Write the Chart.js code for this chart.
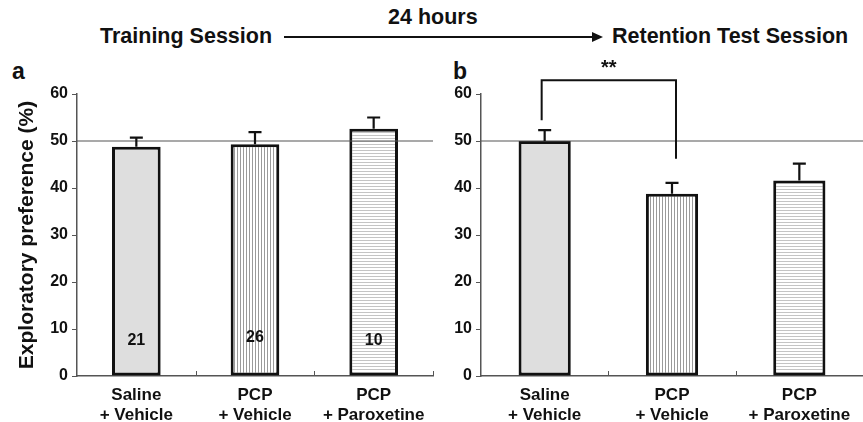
<!DOCTYPE html>
<html><head><meta charset="utf-8">
<script src="https://cdn.jsdelivr.net/npm/chart.js@4"></script>
<style>
html,body{margin:0;padding:0;background:#fff;}
#wrap{position:relative;width:863px;height:422px;overflow:hidden;font-family:"Liberation Sans",Arial,sans-serif;font-weight:bold;color:#111;}
.t{position:absolute;white-space:nowrap;line-height:1;}
canvas{position:absolute;top:0;}
</style></head><body>
<div id="wrap">
  <div class="t" style="left:100px;top:26px;font-size:21.5px">Training Session</div>
  <div class="t" style="left:388px;top:7px;font-size:21.5px">24 hours</div>
  <div class="t" style="left:612px;top:26px;font-size:21.5px">Retention Test Session</div>
  <div style="position:absolute;left:284px;top:36px;width:310px;height:2px;background:#111"></div>
  <div style="position:absolute;left:592px;top:32px;width:0;height:0;border-top:5px solid transparent;border-bottom:5px solid transparent;border-left:11px solid #111"></div>
  <div class="t" style="left:12px;top:60px;font-size:23px">a</div>
  <div class="t" style="left:453px;top:60px;font-size:23px">b</div>
  <canvas id="ca" width="440" height="422" style="left:0"></canvas>
  <canvas id="cb" width="423" height="422" style="left:440px"></canvas>
</div>
<script>
// ---- data ----
const categories = [['Saline', '+ Vehicle'], ['PCP', '+ Vehicle'], ['PCP', '+ Paroxetine']];
const trainingMeans = [48.8, 49.3, 52.6];
const trainingSEM = [1.9, 2.6, 2.4];
const retentionMeans = [50.0, 38.8, 41.6];
const retentionSEM = [2.3, 2.3, 3.6];
const groupN = ['21', '26', '10'];
const groupNLevel = [7.6, 8.2, 7.6];
const chanceLevel = 50;
const yMin = 0, yMax = 60, yStep = 10;
const sigLabel = '**';
const bracketLevels = [54.4, 62.9, 46.2]; // left leg bottom, top, right leg bottom
const bracketPair = [0, 1];

// ---- patterns ----
function makePattern(kind) {
  const c = document.createElement('canvas');
  c.width = 3; c.height = 3;
  const g = c.getContext('2d');
  g.fillStyle = '#fff'; g.fillRect(0, 0, 3, 3);
  if (kind === 'v') { g.fillStyle = '#9a9a9a'; g.fillRect(0, 0, 1, 3); }
  else { g.fillStyle = '#c4c4c4'; g.fillRect(0, 0, 3, 1); }
  return g.createPattern(c, 'repeat');
}
const fills = ['#dedede', makePattern('v'), makePattern('h')];

const FONT = '"Liberation Sans", Arial, sans-serif';
const INK = '#111';

const refLine = {
  id: 'refLine',
  afterDatasetsDraw(chart) {
    const { ctx, chartArea: a, scales: { y } } = chart;
    const py = y.getPixelForValue(chanceLevel);
    ctx.save();
    ctx.strokeStyle = '#555'; ctx.lineWidth = 1.2;
    ctx.beginPath(); ctx.moveTo(a.left, py); ctx.lineTo(a.right, py); ctx.stroke();
    ctx.restore();
  }
};

const errorBars = {
  id: 'errorBars',
  afterDatasetsDraw(chart) {
    const { ctx, scales: { y } } = chart;
    const meta = chart.getDatasetMeta(0);
    const ds = chart.data.datasets[0];
    ctx.save();
    ctx.strokeStyle = INK; ctx.lineWidth = 2.2;
    meta.data.forEach((bar, i) => {
      const top = y.getPixelForValue(ds.data[i]);
      const hi = y.getPixelForValue(ds.data[i] + ds.sem[i]);
      ctx.beginPath();
      ctx.moveTo(bar.x, top); ctx.lineTo(bar.x, hi);
      ctx.moveTo(bar.x - 6.5, hi); ctx.lineTo(bar.x + 6.5, hi);
      ctx.stroke();
    });
    ctx.restore();
  }
};

const xTicks = {
  id: 'xTicks',
  afterDraw(chart) {
    const { ctx, chartArea: a, scales: { x } } = chart;
    ctx.save();
    ctx.strokeStyle = '#555'; ctx.lineWidth = 1;
    const n = chart.data.labels.length;
    for (let i = 1; i <= n; i++) {
      const px = Math.round((x.getPixelForValue(i - 1) + (i < n ? x.getPixelForValue(i) : 2 * x.getPixelForValue(i - 1) - x.getPixelForValue(i - 2))) / 2) + 0.5;
      ctx.beginPath(); ctx.moveTo(px, a.bottom); ctx.lineTo(px, a.bottom - 5); ctx.stroke();
    }
    ctx.restore();
  }
};

const nLabels = {
  id: 'nLabels',
  afterDatasetsDraw(chart) {
    const { ctx, scales: { y } } = chart;
    const meta = chart.getDatasetMeta(0);
    ctx.save();
    ctx.fillStyle = INK; ctx.font = 'bold 16px ' + FONT;
    ctx.textAlign = 'center'; ctx.textBaseline = 'middle';
    meta.data.forEach((bar, i) => ctx.fillText(groupN[i], bar.x, y.getPixelForValue(groupNLevel[i])));
    ctx.restore();
  }
};

const bracket = {
  id: 'bracket',
  afterDatasetsDraw(chart) {
    const { ctx, scales: { y } } = chart;
    const meta = chart.getDatasetMeta(0);
    const x0 = meta.data[bracketPair[0]].x - 3, x1 = meta.data[bracketPair[1]].x + 4;
    const yL = y.getPixelForValue(bracketLevels[0]);
    const yT = y.getPixelForValue(bracketLevels[1]);
    const yR = y.getPixelForValue(bracketLevels[2]);
    ctx.save();
    ctx.strokeStyle = INK; ctx.lineWidth = 2;
    ctx.beginPath();
    ctx.moveTo(x0, yL); ctx.lineTo(x0, yT); ctx.lineTo(x1, yT); ctx.lineTo(x1, yR);
    ctx.stroke();
    ctx.fillStyle = INK; ctx.font = 'bold 20px ' + FONT;
    ctx.textAlign = 'center'; ctx.textBaseline = 'alphabetic';
    ctx.fillText(sigLabel, (x0 + x1) / 2, yT - 6);
    ctx.restore();
  }
};

function makeChart(id, means, sem, yWidth, withTitle, extraPlugins, padRight) {
  return new Chart(document.getElementById(id), {
    type: 'bar',
    data: {
      labels: categories,
      datasets: [{
        data: means, sem: sem,
        backgroundColor: fills,
        borderColor: INK, borderWidth: 3, borderSkipped: false,
        categoryPercentage: 1, barPercentage: 0.41
      }]
    },
    options: {
      responsive: false, animation: false, devicePixelRatio: 1,
      layout: { padding: { top: 94, right: padRight, left: 0, bottom: 0 } },
      plugins: { legend: { display: false }, tooltip: { enabled: false } },
      scales: {
        x: {
          grid: { display: false, drawTicks: false, tickLength: 0 },
          border: { display: true, color: '#555', width: 1.5 },
          ticks: { color: INK, font: { family: FONT, weight: 'bold', size: 17, lineHeight: 1.18 }, padding: 9, maxRotation: 0 },
          afterFit(s) { s.height = 46; }
        },
        y: {
          min: yMin, max: yMax,
          grid: { drawOnChartArea: false, drawTicks: true, tickLength: 5, color: '#555' },
          border: { display: true, color: '#555', width: 1.5 },
          ticks: { stepSize: yStep, color: INK, font: { family: FONT, weight: 'bold', size: 16 }, padding: 4 },
          title: withTitle ? { display: true, text: 'Exploratory preference (%)', color: INK,
            font: { family: FONT, weight: 'bold', size: 21, lineHeight: 1.2 }, padding: { top: 15, bottom: 0 } } : { display: false },
          afterFit(s) { s.width = yWidth; }
        }
      }
    },
    plugins: [refLine, errorBars, xTicks, ...extraPlugins]
  });
}

makeChart('ca', trainingMeans, trainingSEM, 77, true, [nLabels], 7);
makeChart('cb', retentionMeans, retentionSEM, 41, false, [bracket], 0);
</script>
</body></html>
